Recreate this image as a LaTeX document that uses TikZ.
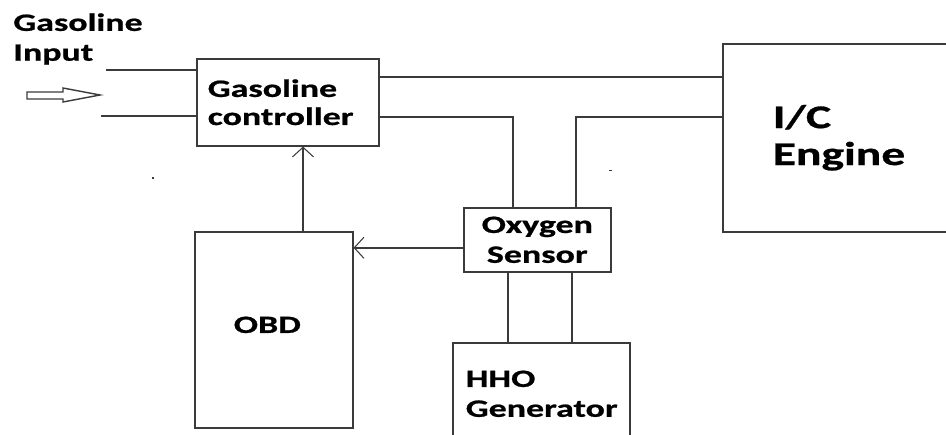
\documentclass[tikz,border=0pt]{standalone}
\usepackage{fontspec}
\setmainfont{Carlito}[FakeStretch=1.44,BoldFeatures={FakeBold=0.8}]
\usetikzlibrary{arrows.meta,calc}
\definecolor{WireGray}{HTML}{3A3A3A}

\begin{document}
\begin{tikzpicture}[x=0.02cm,y=-0.02cm,
  wire/.style={draw=WireGray,line width=0.9pt},
  flow/.style={wire,-{Straight Barb[length=5.5pt,width=12pt,line width=0.6pt]}},
  txt/.style={font=\fontsize{14.2}{17}\selectfont\bfseries},
  blk/.style={txt,draw=WireGray,line width=0.9pt,anchor=north west}]
  \clip (0,0) rectangle (946,435);
  % blocks
  \node[txt,align=left,inner sep=0pt,anchor=north west] (inlbl) at (13,13) {Gasoline\\Input};
  \node[blk,minimum width=3.64cm,minimum height=1.74cm,inner xsep=0.22cm,text width=3.2cm,align=left,
    font=\fontsize{14.2}{16}\selectfont\bfseries] (ctrl) at (196,58) {Gasoline\\controller};
  \node[blk,minimum width=4.76cm,minimum height=3.76cm,inner xsep=1cm,text width=2.76cm,align=left,
    font=\fontsize{18.8}{21}\selectfont\bfseries] (engine) at (722,43) {I/C\\Engine};
  \node[blk,minimum width=2.94cm,minimum height=1.28cm,align=center] (oxy) at (463,207) {Oxygen\\Sensor};
  \node[blk,minimum width=3.16cm,minimum height=3.92cm,inner xsep=0.78cm,text width=1.6cm,align=left] (obd) at (194,231) {\rule[-0.2cm]{0pt}{0pt}OBD};
  \node[blk,minimum width=3.54cm,minimum height=2.04cm,inner xsep=0.26cm,text width=3.02cm,align=left] (hho) at (452,342) {HHO\\Generator};
  % gasoline input
  \coordinate (in1) at (106,70);
  \coordinate (in2) at (101,116);
  \draw[wire] (in1) -- (in1 -| ctrl.west);
  \draw[wire] (in2) -- (in2 -| ctrl.west);
  \draw[WireGray,line width=0.8pt] (27,92) -- (63,92) -- (63,88) -- (100,95) -- (63,102) -- (63,99) -- (27,99) -- cycle;
  % connections
  \draw[wire] ($(ctrl.north east)+(0,19)$) coordinate (c1) -- (c1 -| engine.west);
  \draw[wire] ($(ctrl.north east)+(0,59)$) -| ($(oxy.north west)+(50,0)$);
  \draw[wire] ($(engine.north west)+(0,74)$) -| ($(oxy.north west)+(113,0)$);
  \draw[wire] ($(oxy.south west)+(45,0)$) coordinate (h1) -- (h1 |- hho.north);
  \draw[wire] ($(oxy.south west)+(109,0)$) coordinate (h2) -- (h2 |- hho.north);
  \draw[flow] ($(oxy.west)+(0,8)$) coordinate (o1) -- (o1 -| obd.east);
  \draw[flow] ($(obd.north west)+(109,0)$) coordinate (b1) -- (b1 |- ctrl.south);
  % specks
  \fill[WireGray] (152,177) rectangle (154,179);
  \fill[WireGray] (609,170) rectangle (612,171);
\end{tikzpicture}
\end{document}
